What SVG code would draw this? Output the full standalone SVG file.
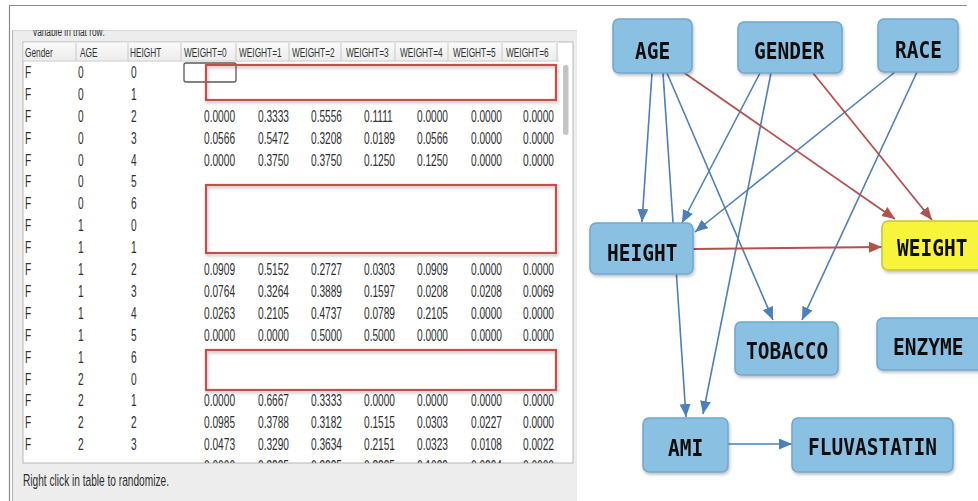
<svg xmlns="http://www.w3.org/2000/svg" width="978" height="501" viewBox="0 0 978 501">
<style>
.t{font-family:"Liberation Sans",Arial,sans-serif;font-size:16.5px;fill:#2f2f2f}
.h{font-family:"Liberation Sans",Arial,sans-serif;font-size:13.5px;fill:#333}
.sep{stroke:#c8c8c8;stroke-width:1}
.rb{fill:none;stroke:#c0504d;stroke-width:2.2}
.node rect{fill:#8ac0e1;stroke:#6fa6cf;stroke-width:1.5}
.node text{font-family:"DejaVu Sans Mono","Liberation Mono",monospace;font-weight:bold;font-size:19.5px;fill:#111}
.eb{stroke:#4d7fb8;stroke-width:1.6;fill:none;marker-end:url(#ab)}
.er{stroke:#b5504d;stroke-width:1.8;fill:none;marker-end:url(#ar)}
</style>
<defs>
<marker id="ab" markerUnits="userSpaceOnUse" markerWidth="14" markerHeight="12" refX="13" refY="5.5" orient="auto"><path d="M0,0 L13,5.5 L0,11 z" fill="#4d7fb8"/></marker>
<marker id="ar" markerUnits="userSpaceOnUse" markerWidth="14" markerHeight="12" refX="13" refY="5.5" orient="auto"><path d="M0,0 L13,5.5 L0,11 z" fill="#b5504d"/></marker>
<linearGradient id="hg" x1="0" y1="0" x2="0" y2="1"><stop offset="0" stop-color="#fafafa"/><stop offset="1" stop-color="#ececec"/></linearGradient>
<clipPath id="topclip"><rect x="20" y="30" width="300" height="6"/></clipPath>
<clipPath id="tblclip"><rect x="30" y="43" width="900" height="420"/></clipPath>
<filter id="sh" x="-10%" y="-10%" width="130%" height="140%"><feDropShadow dx="1" dy="2" stdDeviation="1.5" flood-color="#000" flood-opacity="0.25"/></filter>
</defs>
<rect x="0" y="0" width="978" height="501" fill="#fff"/>
<!-- left panel -->
<line x1="9" y1="5.5" x2="967" y2="5.5" stroke="#8a8a8a" stroke-width="1.2"/>
<line x1="9.5" y1="5" x2="9.5" y2="501" stroke="#8a8a8a" stroke-width="1.2"/>
<rect x="12" y="30" width="565" height="471" fill="#ededed"/>
<line x1="12.5" y1="30" x2="12.5" y2="501" stroke="#b0b0b0"/>
<line x1="12" y1="30.5" x2="577" y2="30.5" stroke="#d8d8d8"/>
<rect x="23" y="42" width="550" height="421" fill="#fff" stroke="#b8b8b8"/>
<rect x="23.5" y="42.5" width="535" height="18" fill="url(#hg)"/>
<line x1="23" y1="61" x2="559" y2="61" stroke="#c8c8c8"/>
<g class="sep">
<line x1="76" y1="43" x2="76" y2="61"/><line x1="128" y1="43" x2="128" y2="61"/><line x1="181" y1="43" x2="181" y2="61"/><line x1="236" y1="43" x2="236" y2="61"/><line x1="289" y1="43" x2="289" y2="61"/><line x1="341" y1="43" x2="341" y2="61"/><line x1="395" y1="43" x2="395" y2="61"/><line x1="448" y1="43" x2="448" y2="61"/><line x1="502" y1="43" x2="502" y2="61"/><line x1="557" y1="43" x2="557" y2="61"/>
</g>
<!-- scrollbar -->
<rect x="563" y="65" width="5.5" height="70" rx="2.7" fill="#c4c4c4"/>
<g transform="scale(0.615,1)">
<text class="h" x="53.66" y="36" clip-path="url(#topclip)" fill="#555">variable in that row:</text>
<g class="h">
<text x="40.65" y="57">Gender</text>
<text x="130.08" y="57">AGE</text>
<text x="211.38" y="57">HEIGHT</text>
<text x="299.19" y="57">WEIGHT=0</text>
<text x="388.62" y="57">WEIGHT=1</text>
<text x="474.8" y="57">WEIGHT=2</text>
<text x="562.6" y="57">WEIGHT=3</text>
<text x="650.41" y="57">WEIGHT=4</text>
<text x="736.59" y="57">WEIGHT=5</text>
<text x="822.76" y="57">WEIGHT=6</text>
</g>
<g class="t" clip-path="url(#tblclip)">
<g><text x="40.65" y="78">F</text><text x="126.83" y="78">0</text><text x="213.01" y="78">0</text></g>
<g><text x="40.65" y="100">F</text><text x="126.83" y="100">0</text><text x="213.01" y="100">1</text></g>
<g><text x="40.65" y="122">F</text><text x="126.83" y="122">0</text><text x="213.01" y="122">2</text>
<text x="331.71" y="122">0.0000</text><text x="419.51" y="122">0.3333</text><text x="505.69" y="122">0.5556</text><text x="591.87" y="122">0.1111</text><text x="678.05" y="122">0.0000</text><text x="765.85" y="122">0.0000</text><text x="850.41" y="122">0.0000</text></g>
<g><text x="40.65" y="144">F</text><text x="126.83" y="144">0</text><text x="213.01" y="144">3</text>
<text x="331.71" y="144">0.0566</text><text x="419.51" y="144">0.5472</text><text x="505.69" y="144">0.3208</text><text x="591.87" y="144">0.0189</text><text x="678.05" y="144">0.0566</text><text x="765.85" y="144">0.0000</text><text x="850.41" y="144">0.0000</text></g>
<g><text x="40.65" y="166">F</text><text x="126.83" y="166">0</text><text x="213.01" y="166">4</text>
<text x="331.71" y="166">0.0000</text><text x="419.51" y="166">0.3750</text><text x="505.69" y="166">0.3750</text><text x="591.87" y="166">0.1250</text><text x="678.05" y="166">0.1250</text><text x="765.85" y="166">0.0000</text><text x="850.41" y="166">0.0000</text></g>
<g><text x="40.65" y="187.5">F</text><text x="126.83" y="187.5">0</text><text x="213.01" y="187.5">5</text></g>
<g><text x="40.65" y="209.4">F</text><text x="126.83" y="209.4">0</text><text x="213.01" y="209.4">6</text></g>
<g><text x="40.65" y="231.3">F</text><text x="126.83" y="231.3">1</text><text x="213.01" y="231.3">0</text></g>
<g><text x="40.65" y="253.2">F</text><text x="126.83" y="253.2">1</text><text x="213.01" y="253.2">1</text></g>
<g><text x="40.65" y="275.1">F</text><text x="126.83" y="275.1">1</text><text x="213.01" y="275.1">2</text>
<text x="331.71" y="275.1">0.0909</text><text x="419.51" y="275.1">0.5152</text><text x="505.69" y="275.1">0.2727</text><text x="591.87" y="275.1">0.0303</text><text x="678.05" y="275.1">0.0909</text><text x="765.85" y="275.1">0.0000</text><text x="850.41" y="275.1">0.0000</text></g>
<g><text x="40.65" y="297">F</text><text x="126.83" y="297">1</text><text x="213.01" y="297">3</text>
<text x="331.71" y="297">0.0764</text><text x="419.51" y="297">0.3264</text><text x="505.69" y="297">0.3889</text><text x="591.87" y="297">0.1597</text><text x="678.05" y="297">0.0208</text><text x="765.85" y="297">0.0208</text><text x="850.41" y="297">0.0069</text></g>
<g><text x="40.65" y="318.9">F</text><text x="126.83" y="318.9">1</text><text x="213.01" y="318.9">4</text>
<text x="331.71" y="318.9">0.0263</text><text x="419.51" y="318.9">0.2105</text><text x="505.69" y="318.9">0.4737</text><text x="591.87" y="318.9">0.0789</text><text x="678.05" y="318.9">0.2105</text><text x="765.85" y="318.9">0.0000</text><text x="850.41" y="318.9">0.0000</text></g>
<g><text x="40.65" y="340.8">F</text><text x="126.83" y="340.8">1</text><text x="213.01" y="340.8">5</text>
<text x="331.71" y="340.8">0.0000</text><text x="419.51" y="340.8">0.0000</text><text x="505.69" y="340.8">0.5000</text><text x="591.87" y="340.8">0.5000</text><text x="678.05" y="340.8">0.0000</text><text x="765.85" y="340.8">0.0000</text><text x="850.41" y="340.8">0.0000</text></g>
<g><text x="40.65" y="362.7">F</text><text x="126.83" y="362.7">1</text><text x="213.01" y="362.7">6</text></g>
<g><text x="40.65" y="384.6">F</text><text x="126.83" y="384.6">2</text><text x="213.01" y="384.6">0</text></g>
<g><text x="40.65" y="406.5">F</text><text x="126.83" y="406.5">2</text><text x="213.01" y="406.5">1</text>
<text x="331.71" y="406.5">0.0000</text><text x="419.51" y="406.5">0.6667</text><text x="505.69" y="406.5">0.3333</text><text x="591.87" y="406.5">0.0000</text><text x="678.05" y="406.5">0.0000</text><text x="765.85" y="406.5">0.0000</text><text x="850.41" y="406.5">0.0000</text></g>
<g><text x="40.65" y="428.4">F</text><text x="126.83" y="428.4">2</text><text x="213.01" y="428.4">2</text>
<text x="331.71" y="428.4">0.0985</text><text x="419.51" y="428.4">0.3788</text><text x="505.69" y="428.4">0.3182</text><text x="591.87" y="428.4">0.1515</text><text x="678.05" y="428.4">0.0303</text><text x="765.85" y="428.4">0.0227</text><text x="850.41" y="428.4">0.0000</text></g>
<g><text x="40.65" y="450.3">F</text><text x="126.83" y="450.3">2</text><text x="213.01" y="450.3">3</text>
<text x="331.71" y="450.3">0.0473</text><text x="419.51" y="450.3">0.3290</text><text x="505.69" y="450.3">0.3634</text><text x="591.87" y="450.3">0.2151</text><text x="678.05" y="450.3">0.0323</text><text x="765.85" y="450.3">0.0108</text><text x="850.41" y="450.3">0.0022</text></g>
<g><text x="331.71" y="472.2">0.0000</text><text x="419.51" y="472.2">0.3235</text><text x="505.69" y="472.2">0.3235</text><text x="591.87" y="472.2">0.2235</text><text x="678.05" y="472.2">0.1029</text><text x="765.85" y="472.2">0.0294</text><text x="850.41" y="472.2">0.0000</text></g>
</g>
<text class="t" x="37.4" y="486" fill="#333">Right click in table to randomize.</text>
</g>
<!-- selection and highlight boxes -->
<rect x="184" y="63" width="52" height="19" rx="2" fill="none" stroke="#5a5a5a" stroke-width="1.3"/>
<g filter="url(#sh)">
<rect class="rb" x="206" y="65" width="350" height="35"/>
<rect class="rb" x="206" y="185" width="350" height="68"/>
<rect class="rb" x="206" y="350" width="350" height="40"/>
</g>
<!-- connectors -->
<g id="connectors">
<line class="eb" x1="652" y1="73" x2="642" y2="222"/>
<line class="eb" x1="663" y1="73" x2="686" y2="417"/>
<line class="eb" x1="667" y1="73" x2="773" y2="320"/>
<line class="eb" x1="760" y1="73" x2="682" y2="223"/>
<line class="eb" x1="771" y1="73" x2="703" y2="414"/>
<line class="eb" x1="895" y1="72" x2="695" y2="232"/>
<line class="eb" x1="917" y1="72" x2="802" y2="320"/>
<line class="eb" x1="728" y1="444" x2="792" y2="444"/>
<line class="er" x1="683" y1="72" x2="895" y2="219"/>
<line class="er" x1="813" y1="73" x2="932" y2="220"/>
<line class="er" x1="693" y1="249" x2="882" y2="247"/>
</g>
<!-- nodes -->
<g id="node-age" class="node" filter="url(#sh)"><rect x="613" y="19" width="79" height="54" rx="6"/><text transform="translate(635,59) scale(1,1.15)">AGE</text></g>
<g id="node-gender" class="node" filter="url(#sh)"><rect x="738" y="22" width="104" height="51" rx="6"/><text transform="translate(754,59) scale(1,1.15)">GENDER</text></g>
<g id="node-race" class="node" filter="url(#sh)"><rect x="878" y="19" width="80" height="53" rx="6"/><text transform="translate(895,58) scale(1,1.15)">RACE</text></g>
<g id="node-height" class="node" filter="url(#sh)"><rect x="590" y="223" width="103" height="51" rx="6"/><text transform="translate(607,261) scale(1,1.15)">HEIGHT</text></g>
<g id="node-weight" class="node" filter="url(#sh)"><rect x="882" y="221" width="104" height="49" rx="6" style="fill:#f7f43a;stroke:#c9c23a"/><text transform="translate(897,256) scale(1,1.15)">WEIGHT</text></g>
<g id="node-tobacco" class="node" filter="url(#sh)"><rect x="735" y="322" width="103" height="53" rx="6"/><text transform="translate(746,359) scale(1,1.15)">TOBACCO</text></g>
<g id="node-enzyme" class="node" filter="url(#sh)"><rect x="877" y="318" width="108" height="52" rx="6"/><text transform="translate(893,355) scale(1,1.15)">ENZYME</text></g>
<g id="node-ami" class="node" filter="url(#sh)"><rect x="643" y="418" width="85" height="54" rx="6"/><text transform="translate(668,456) scale(1,1.15)">AMI</text></g>
<g id="node-fluvastatin" class="node" filter="url(#sh)"><rect x="792" y="418" width="161" height="54" rx="6"/><text transform="translate(808,455) scale(1,1.15)">FLUVASTATIN</text></g>
</svg>
